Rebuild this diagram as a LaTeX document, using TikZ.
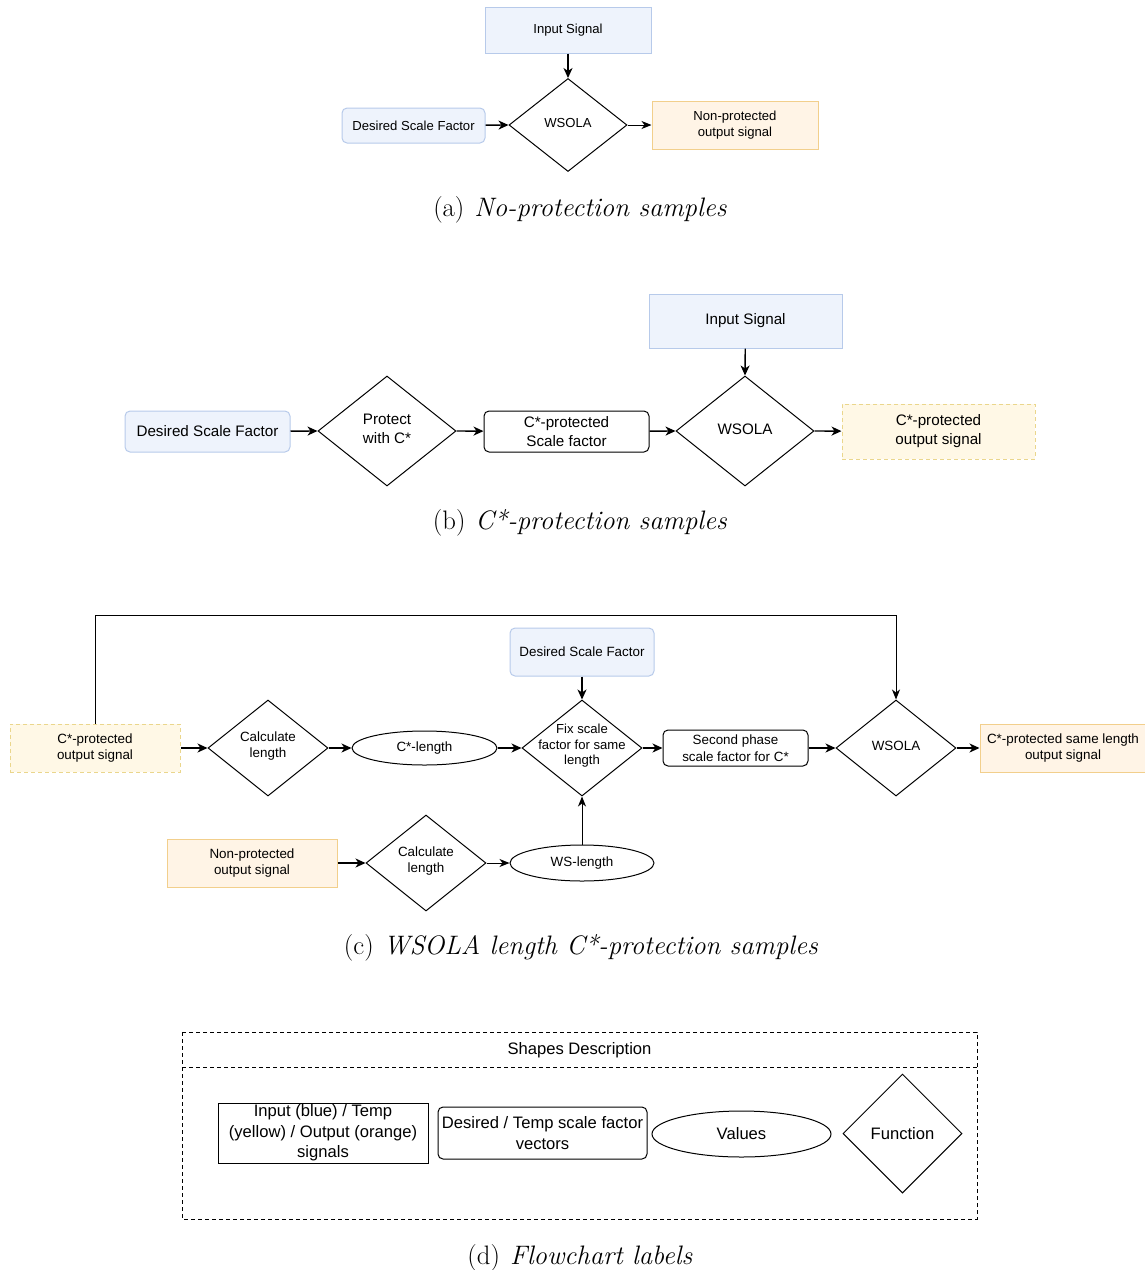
\documentclass[tikz,border=0pt]{standalone}
\usepackage{fontspec}
\newfontfamily\arialf{Liberation Sans}
\usetikzlibrary{shapes.geometric,arrows.meta}
\definecolor{blueF}{HTML}{EEF3FC}
\definecolor{blueB}{HTML}{B7CAEA}
\definecolor{orgF}{HTML}{FFF4E6}
\definecolor{orgB}{HTML}{F2CF8C}
\definecolor{yelF}{HTML}{FFF8E6}
\definecolor{yelB}{HTML}{EAD68C}
\tikzset{
  fa/.style={font=\arialf\fontsize{13.1}{16}\selectfont},
  fb/.style={font=\arialf\fontsize{15.2}{19}\selectfont},
  fc/.style={font=\arialf\fontsize{13.4}{16.5}\selectfont},
  fd/.style={font=\arialf\fontsize{16.6}{20.5}\selectfont},
  base/.style={align=center, inner sep=0pt, line width=1pt},
  bluebox/.style={base, draw=blueB, fill=blueF},
  bluerbox/.style={base, draw=blueB, fill=blueF, rounded corners=5pt},
  orgbox/.style={base, draw=orgB, fill=orgF},
  yelbox/.style={base, draw=yelB, fill=yelF, dashed, dash pattern=on 4pt off 3pt},
  whiterbox/.style={base, draw=black, fill=white, rounded corners=5pt},
  plainbox/.style={base, draw=black, fill=white},
  fn/.style={base, draw=black, diamond},
  val/.style={base, draw=black, ellipse},
  lbl/.style={align=center, inner sep=0pt},
  arr/.style={-{Stealth[length=10pt,width=9pt,inset=3pt]}, line width=1.4pt},
  arrt/.style={-{Stealth[length=10pt,width=8pt,inset=3pt]}, line width=1pt},
  captxt/.style={font=\fontsize{26.7}{30}\selectfont, inner sep=0pt},
}
\begin{document}
\begin{tikzpicture}[x=1pt,y=-1pt]
\useasboundingbox (0,0) rectangle (1145,1270);
% ---------- (a) ----------
\node[bluebox,fa,minimum width=166,minimum height=46] (inA) at (568,30) {Input Signal};
\node[fn,fa,minimum width=118,minimum height=93] (wsA) at (568,125) {};
\node[lbl,fa] (wsAt) at (568,123) {WSOLA};
\node[bluerbox,fa,minimum width=143,minimum height=35] (dsA) at (413.5,125.5) {Desired Scale Factor};
\node[orgbox,fa,minimum width=166,minimum height=48] (npA) at (735,125) {Non-protected\\output signal};
\draw[arr] (inA) -- (wsA.north);
\draw[arr] (dsA) -- (wsA.west);
\draw[arrt] (wsA.east) -- (npA);
\node[captxt] (capA) at (580,210) {(a)\hspace{10pt}\textit{No-protection samples}};
% ---------- (b) ----------
\node[bluebox,fb,minimum width=193,minimum height=54] (inB) at (745.5,321) {Input Signal};
\node[bluerbox,fb,minimum width=165,minimum height=41] (dsB) at (207.5,431.5) {Desired Scale Factor};
\node[fn,fb,minimum width=138,minimum height=110] (prB) at (387,431) {};
\node[lbl,fb] (prBt) at (387,429) {Protect\\with C*};
\node[whiterbox,fb,minimum width=165,minimum height=41] (csB) at (566.5,431.5) {C*-protected\\Scale factor};
\node[fn,fb,minimum width=138,minimum height=110] (wsB) at (745,431) {};
\node[lbl,fb] (wsBt) at (745,429) {WSOLA};
\node[yelbox,fb,minimum width=193,minimum height=55] (coB) at (938.5,431.5) {C*-protected\\output signal};
\draw[arr] (inB) -- (wsB.north);
\draw[arr] (dsB) -- (prB.west);
\draw[arr] (prB.east) -- (csB);
\draw[arr] (csB) -- (wsB.west);
\draw[arr] (wsB.east) -- (coB);
\node[captxt] (capB) at (580,523) {(b)\hspace{10pt}\textit{C*-protection samples}};
% ---------- (c) ----------
\node[yelbox,fc,minimum width=170,minimum height=48] (coC) at (95,748) {C*-protected\\output signal};
\node[fn,minimum width=120,minimum height=96] (clC) at (268,748) {};
\node[lbl,fc] (clCt) at (268,746) {Calculate\\length};
\node[val,fc,minimum width=145,minimum height=34] (clen) at (424.5,748) {C*-length};
\node[bluerbox,fc,minimum width=144,minimum height=48] (dsC) at (582,652) {Desired Scale Factor};
\node[fn,minimum width=120,minimum height=96] (fxC) at (582,748) {};
\node[lbl,font=\arialf\fontsize{13.1}{15.5}\selectfont] (fxCt) at (582,746) {Fix scale\\factor for same\\length};
\node[whiterbox,fc,minimum width=145,minimum height=36] (spC) at (735.5,748) {Second phase\\scale factor for C*};
\node[fn,minimum width=120,minimum height=96] (wsC) at (896,748) {};
\node[lbl,fc] (wsCt) at (896,746) {WSOLA};
\node[orgbox,fc,minimum width=166,minimum height=48] (outC) at (1063,748) {C*-protected same length\\output signal};
\node[orgbox,fc,minimum width=170,minimum height=48] (npC) at (252,863) {Non-protected\\output signal};
\node[fn,minimum width=120,minimum height=96] (cl2) at (426,863) {};
\node[lbl,fc] (cl2t) at (426,861) {Calculate\\length};
\node[val,fc,minimum width=144,minimum height=36] (wsl) at (582,863) {WS-length};
\coordinate (loopL) at (95,615);
\coordinate (loopR) at (896,615);
\draw[arrt] (coC.north) -- (loopL) -- (loopR) -- (wsC.north);
\draw[arr] (coC) -- (clC.west);
\draw[arr] (clC.east) -- (clen);
\draw[arr] (clen) -- (fxC.west);
\draw[arr] (dsC) -- (fxC.north);
\draw[arr] (fxC.east) -- (spC);
\draw[arr] (spC) -- (wsC.west);
\draw[arr] (wsC.east) -- (outC);
\draw[arr] (npC) -- (cl2.west);
\draw[arrt] (cl2.east) -- (wsl);
\draw[arrt] (wsl) -- (fxC.south);
\node[captxt] (capC) at (581,948) {(c)\hspace{10pt}\textit{WSOLA length C*-protection samples}};
% ---------- (d) ----------
\draw[line width=1pt, dash pattern=on 4pt off 3pt] (182,1032) rectangle (977,1219);
\draw[line width=1pt, dash pattern=on 4pt off 3pt] (182,1067) -- (977,1067);
\node[fd] (title) at (579.5,1050) {Shapes Description};
\node[plainbox,fd,minimum width=210,minimum height=60] (lgR) at (323,1133) {Input (blue) / Temp\\(yellow) / Output (orange)\\signals};
\node[whiterbox,fd,minimum width=209,minimum height=52] (lgRR) at (542.5,1133) {Desired / Temp scale factor\\vectors};
\node[val,fd,minimum width=179,minimum height=46] (lgE) at (741.5,1134) {Values};
\node[fn,minimum width=119,minimum height=119] (lgD) at (902.5,1133.5) {};
\node[lbl,fd] (lgDt) at (902.5,1133.5) {Function};
\node[captxt] (capD) at (580,1258) {(d)\hspace{10pt}\textit{Flowchart labels}};
\end{tikzpicture}
\end{document}
